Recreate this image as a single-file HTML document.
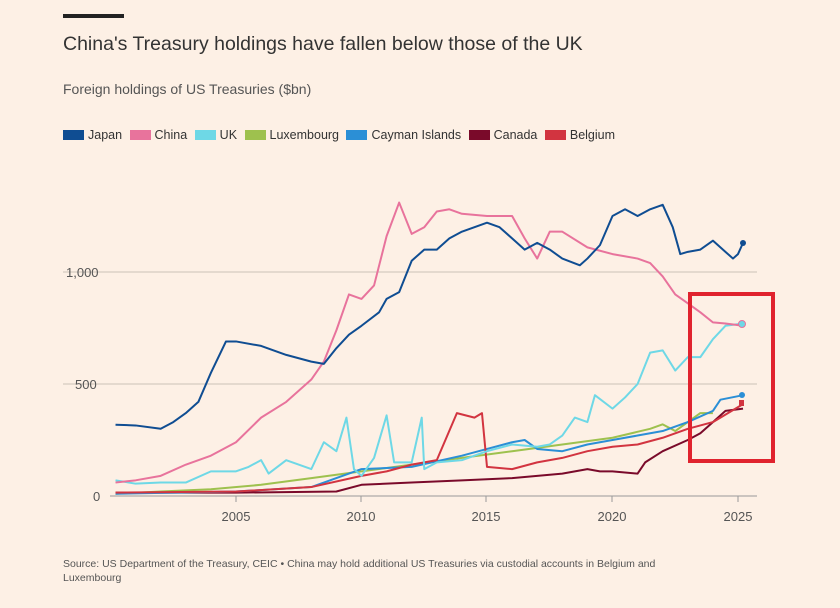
<!DOCTYPE html>
<html><head><meta charset="utf-8"><style>
body{margin:0;background:#fdf0e5;width:840px;height:608px;overflow:hidden;font-family:"Liberation Sans",sans-serif;}
.t{position:absolute;white-space:nowrap;}
</style></head><body>
<div style="position:absolute;left:63px;top:14px;width:61px;height:4px;background:#222"></div>
<div class="t" style="left:63px;top:33px;font-size:19.5px;color:#333">China's Treasury holdings have fallen below those of the UK</div>
<div class="t" style="left:63px;top:81px;font-size:14px;color:#555">Foreign holdings of US Treasuries ($bn)</div>
<div class="t" style="left:63px;top:128px;font-size:12.5px;color:#333;display:flex;align-items:center;gap:4px">
<span style="width:21px;height:10px;background:#0f4d92;display:inline-block"></span>Japan&nbsp;
<span style="width:21px;height:10px;background:#e8739c;display:inline-block"></span>China&nbsp;
<span style="width:21px;height:10px;background:#6ed8e6;display:inline-block"></span>UK&nbsp;
<span style="width:21px;height:10px;background:#9ec14e;display:inline-block"></span>Luxembourg&nbsp;
<span style="width:21px;height:10px;background:#2b8fd6;display:inline-block"></span>Cayman Islands&nbsp;
<span style="width:21px;height:10px;background:#7a0a2a;display:inline-block"></span>Canada&nbsp;
<span style="width:21px;height:10px;background:#d23440;display:inline-block"></span>Belgium</div>
<svg width="840" height="608" style="position:absolute;left:0;top:0">
<line x1="63" y1="272" x2="757" y2="272" stroke="#ccc2b8"/>
<line x1="63" y1="384" x2="757" y2="384" stroke="#ccc2b8"/>
<line x1="110" y1="496" x2="757" y2="496" stroke="#999"/>
<g stroke="#999"><line x1="236" y1="496" x2="236" y2="502"/><line x1="361" y1="496" x2="361" y2="502"/><line x1="486" y1="496" x2="486" y2="502"/><line x1="612" y1="496" x2="612" y2="502"/><line x1="738" y1="496" x2="738" y2="502"/></g>
<g font-size="13" fill="#555" font-family="Liberation Sans,sans-serif">
<text x="66" y="277">1,000</text><text x="75" y="389">500</text><text x="93" y="501">0</text>
<text x="236" y="521" text-anchor="middle">2005</text><text x="361" y="521" text-anchor="middle">2010</text><text x="486" y="521" text-anchor="middle">2015</text><text x="612" y="521" text-anchor="middle">2020</text><text x="738" y="521" text-anchor="middle">2025</text>
</g>
<g transform="matrix(25.1,0,0,-0.224,-50089.5,496)" fill="none" stroke-width="2" stroke-linejoin="round">
<polyline vector-effect="non-scaling-stroke" stroke="#7a0a2a" points="2000.2,15 2005,15 2009,20 2010,50 2012,60 2014,70 2016,80 2018,100 2019,120 2019.5,110 2020,110 2021,100 2021.3,150 2022,200 2023,250 2023.5,280 2024,330 2024.5,380 2025.2,390"/>
<polyline vector-effect="non-scaling-stroke" stroke="#9ec14e" points="2000.2,10 2002,20 2004,30 2006,50 2008,80 2010,110 2012,140 2014,170 2016,200 2018,230 2020,260 2021.5,300 2022,320 2022.5,290 2023,330 2023.5,370 2024,370"/>
<polyline vector-effect="non-scaling-stroke" stroke="#2b8fd6" points="2000.2,10 2005,20 2008,40 2010,120 2012,130 2014,180 2015,210 2016,240 2016.5,250 2017,210 2018,200 2019,230 2020,250 2021,270 2022,290 2023,330 2024,380 2024.3,430 2025.2,450"/>
<polyline vector-effect="non-scaling-stroke" stroke="#d23440" points="2000.2,15 2005,20 2008,40 2010,90 2011,110 2012,140 2013,160 2013.8,370 2014.5,350 2014.8,370 2015,130 2016,120 2017,150 2018,170 2019,200 2020,220 2021,230 2022,260 2023,300 2024,330 2025.2,410"/>
<polyline vector-effect="non-scaling-stroke" stroke="#6ed8e6" points="2000.2,70 2001,55 2002,60 2003,60 2004,110 2005,110 2005.5,130 2006,160 2006.3,100 2007,160 2008,120 2008.5,240 2009,200 2009.4,350 2009.7,120 2010,90 2010.5,170 2011,360 2011.3,150 2012,150 2012.4,350 2012.5,120 2013,150 2014,160 2015,200 2016,230 2017,220 2017.5,230 2018,270 2018.5,350 2019,330 2019.3,450 2020,390 2020.5,440 2021,500 2021.5,640 2022,650 2022.5,560 2023,620 2023.5,620 2024,700 2024.5,760 2025.2,770"/>
<polyline vector-effect="non-scaling-stroke" stroke="#e8739c" points="2000.2,60 2001,70 2002,90 2003,140 2004,180 2005,240 2006,350 2007,420 2008,520 2008.5,600 2009,740 2009.5,900 2010,880 2010.5,940 2011,1160 2011.5,1310 2012,1170 2012.5,1200 2013,1270 2013.5,1280 2014,1260 2015,1250 2016,1250 2016.5,1150 2017,1060 2017.5,1180 2018,1180 2019,1110 2020,1080 2021,1060 2021.5,1040 2022,980 2022.5,900 2023,860 2023.5,820 2024,775 2024.5,770 2025.2,760"/>
<polyline vector-effect="non-scaling-stroke" stroke="#0f4d92" points="2000.2,318 2001,315 2002,300 2002.5,330 2003,370 2003.5,420 2004,550 2004.6,690 2005,690 2006,670 2007,630 2008,600 2008.5,590 2009,660 2009.5,720 2010,760 2010.7,820 2011,880 2011.5,910 2012,1050 2012.5,1100 2013,1100 2013.5,1150 2014,1180 2015,1220 2015.5,1200 2016,1150 2016.5,1100 2017,1130 2017.5,1100 2018,1060 2018.7,1030 2019,1060 2019.5,1120 2020,1250 2020.5,1280 2021,1250 2021.5,1280 2022,1300 2022.4,1200 2022.7,1080 2023,1090 2023.5,1100 2024,1140 2024.5,1090 2024.8,1060 2025,1080 2025.2,1130"/>
</g>
<circle cx="743" cy="243" r="3" fill="#0f4d92"/>
<circle cx="742" cy="324" r="3.5" fill="#6ed8e6" stroke="#e8739c"/>
<circle cx="742" cy="395" r="3" fill="#2b8fd6"/>
<rect x="739" y="400" width="5" height="6" fill="#d23440"/>
<rect x="690" y="294" width="83" height="167" fill="none" stroke="#e0232e" stroke-width="4"/>
</svg>
<div class="t" style="left:63px;top:557px;font-size:10.5px;color:#555;line-height:14px;white-space:normal;width:640px">Source: US Department of the Treasury, CEIC • China may hold additional US Treasuries via custodial accounts in Belgium and Luxembourg</div>
</body></html>
